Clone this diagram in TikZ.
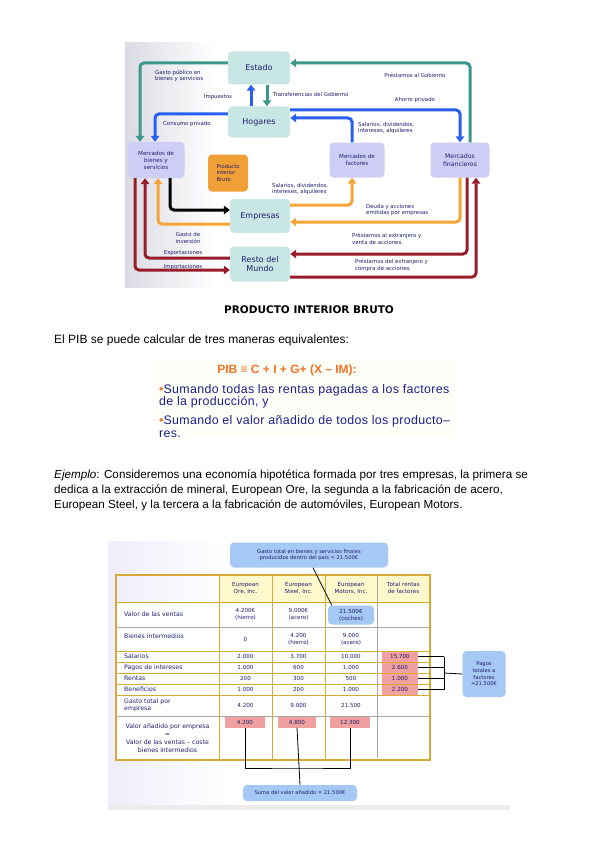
\documentclass[tikz,border=0pt]{standalone}
\usepackage{fontspec}
\setmainfont{Liberation Sans}
\newfontfamily\dejavu{DejaVu Sans}
\newfontfamily\spaced[LetterSpace=2.8]{Liberation Sans}
\usetikzlibrary{arrows.meta, positioning, calc}
\definecolor{navy}{RGB}{30,30,110}
\definecolor{tealc}{RGB}{62,150,140}
\definecolor{bluec}{RGB}{40,95,240}
\definecolor{orangec}{RGB}{245,165,55}
\definecolor{redc}{RGB}{150,28,42}
\definecolor{boxteal}{RGB}{200,230,228}
\definecolor{boxlav}{RGB}{205,205,245}
\definecolor{pibbox}{RGB}{240,160,55}
\definecolor{gold}{RGB}{215,170,55}
\definecolor{headyel}{RGB}{255,248,205}
\definecolor{pinkc}{RGB}{240,160,158}
\definecolor{calloutc}{RGB}{165,200,245}
\definecolor{formula}{RGB}{240,115,35}
\definecolor{bodytext}{RGB}{28,28,140}

\begin{document}
\begin{tikzpicture}[x=1pt, y=-1pt,
    flow/.style={line width=3pt, rounded corners=4pt,
                 -{Triangle[length=6pt,width=8.5pt]}},
    tealflow/.style={flow, draw=tealc, color=tealc},
    blueflow/.style={flow, draw=bluec, color=bluec},
    orangeflow/.style={flow, draw=orangec, color=orangec},
    redflow/.style={flow, draw=redc, color=redc},
    blackflow/.style={flow, draw=black, color=black},
    sector/.style={rounded corners=4pt, fill=boxteal, align=center, text=navy,
                   font=\dejavu\fontsize{8}{9.5}\selectfont},
    market/.style={rounded corners=4pt, fill=boxlav, align=center, text=navy,
                   font=\dejavu\fontsize{5.6}{7}\selectfont},
    flowlabel/.style={font=\dejavu\fontsize{5.4}{6.8}\selectfont, text=navy,
                      align=left, inner sep=0pt},
    cell/.style={font=\dejavu\fontsize{5.6}{6.8}\selectfont, text=navy,
                 align=center, inner sep=0pt},
    rowname/.style={font=\dejavu\fontsize{6.2}{7.4}\selectfont, text=navy,
                    align=left, inner sep=0pt, anchor=west},
    pinkcell/.style={cell, fill=pinkc, minimum height=10pt},
    callout/.style={fill=calloutc, rounded corners=4pt, align=center, text=navy,
                    font=\dejavu\fontsize{5.2}{6.6}\selectfont, inner sep=1pt},
    link/.style={draw=black, line width=0.8pt}
]
    \useasboundingbox (0,0) rectangle (600,848);
    \fill[white] (0,0) rectangle (600,848);

    % Panels
    \fill[white] (125,43) rectangle (492,287);
    \shade[left color=blue!15!gray!25, right color=white] (125,43) rectangle (215,287);
    \fill[yellow!2] (158,360) rectangle (455,437);
    \shade[left color=yellow!15!blue!8, right color=white] (108,541) rectangle (230,805);
    \fill[gray!15] (108,805) rectangle (510,810);

    % Sectors and markets
    \node[sector, minimum width=62pt, minimum height=33pt] (estado) at (259,68) {Estado};
    \node[sector, minimum width=62pt, minimum height=31pt] (hogares) at (259,122) {Hogares};
    \node[sector, minimum width=60pt, minimum height=34pt] (empresas) at (260,216) {Empresas};
    \node[sector, minimum width=60pt, minimum height=35pt] (resto) at (260,264) {Resto del\\Mundo};
    \node[market, minimum width=57pt, minimum height=36pt] (mbienes) at (156,160) {Mercados de\\bienes y\\servicios};
    \node[market, minimum width=55pt, minimum height=35pt] (mfactores) at (357,160) {Mercados de\\factores};
    \node[market, minimum width=59pt, minimum height=35pt,
          font=\dejavu\fontsize{6.2}{7.5}\selectfont] (mfinan) at (460,160) {Mercados\\financieros};
    \node[rounded corners=4pt, fill=pibbox, minimum width=40pt, minimum height=37pt,
          align=left, text=navy, font=\dejavu\fontsize{5.2}{6.8}\selectfont] (pib) at (228,173) {Producto\\Interior\\Bruto};

    % Flows
    \draw[tealflow] ([yshift=5pt]estado.west) -| ([xshift=-16pt]mbienes.north);
    \draw[tealflow] ([xshift=8pt]estado.south) -- ([xshift=8pt]hogares.north);
    \draw[tealflow] ([xshift=10pt]mfinan.north) |- ([yshift=5pt]estado.east);
    \draw[blueflow] ([xshift=-8pt]hogares.north) -- ([xshift=-8pt]estado.south);
    \draw[blueflow] ([yshift=8pt]hogares.west) -| ([xshift=-1pt]mbienes.north);
    \draw[blueflow] ([yshift=12pt]hogares.east) -| (mfinan.north);
    \draw[blueflow] ([xshift=-5pt]mfactores.north) |- ([yshift=4pt]hogares.east);
    \draw[orangeflow] ([yshift=11pt]empresas.east) -| ([xshift=-5pt]mfactores.south);
    \draw[orangeflow] (mfinan.south) |- ([yshift=-6pt]empresas.east);
    \draw[orangeflow] ([yshift=-8pt]empresas.west) -| ([xshift=2pt]mbienes.south);
    \draw[blackflow] ([xshift=14pt]mbienes.south) |- ([yshift=6pt]empresas.west);
    \draw[redflow] ([yshift=6pt]resto.west) -| ([xshift=-11pt]mbienes.south);
    \draw[redflow] ([xshift=-21pt]mbienes.south) |- ([yshift=-6pt]resto.west);
    \draw[redflow] ([xshift=7pt]mfinan.south) |- ([yshift=10pt]resto.east);
    \draw[redflow] ([yshift=-13pt]resto.east) -| ([xshift=16pt]mfinan.south);

    % Flow labels
    \node[flowlabel, anchor=west] (lgasto) at (155,76) {Gasto público en\\bienes y servicios};
    \node[flowlabel] (limp) at (218,97) {Impuestos};
    \node[flowlabel, anchor=west] (ltransf) at (273,94) {Transferencias del Gobierno};
    \node[flowlabel] (lprestgob) at (415,75) {Préstamos al Gobierno};
    \node[flowlabel] (lahorro) at (415,100) {Ahorro privado};
    \node[flowlabel, anchor=west] (lconsumo) at (163,124) {Consumo privado};
    \node[flowlabel, anchor=west] (lsalh) at (358,128) {Salarios, dividendos,\\intereses, alquileres};
    \node[flowlabel, anchor=west] (lsale) at (272,189) {Salarios, dividendos,\\intereses, alquileres};
    \node[flowlabel, anchor=west] (ldeuda) at (366,210) {Deuda y acciones\\emitidas por empresas};
    \node[flowlabel, align=center] (linv) at (188,238) {Gasto de\\inversión};
    \node[flowlabel] (lexp) at (183,253) {Exportaciones};
    \node[flowlabel] (limpo) at (183,267) {Importaciones};
    \node[flowlabel, anchor=west] (lprestext) at (352,239) {Préstamos al extranjero y\\venta de acciones.};
    \node[flowlabel, anchor=west] (lprestdel) at (355,265) {Préstamos del extranjero y\\compra de acciones.};

    % Title and text
    \node[font=\dejavu\bfseries\fontsize{10.5}{12}\selectfont] (title) at (309,310) {PRODUCTO INTERIOR BRUTO};
    \node[anchor=west, inner sep=0pt, font=\fontsize{12}{14}\selectfont] (intro) at (54,340)
        {El PIB se puede calcular de tres maneras equivalentes:};
    \node[font=\bfseries\fontsize{12}{14}\selectfont, text=formula] (pibeq) at (287,370)
        {PIB ≡ C + I + G+ (X – IM):};
    \node[anchor=north west, inner sep=0pt, align=left, text=bodytext,
          font=\spaced\fontsize{12.4}{12.8}\selectfont] (ways) at (159,384)
        {\textcolor{formula}{•}Sumando todas las rentas pagadas a los factores\\
         de la producción, y\\[6pt]
         \textcolor{formula}{•}Sumando el valor añadido de todos los producto–\\
         res.};
    \node[anchor=north west, inner sep=0pt, align=left,
          font=\fontsize{11.7}{14.8}\selectfont] (ejemplo) at (54,470)
        {\textit{Ejemplo}: Consideremos una economía hipotética formada por tres empresas, la primera se\\
         dedica a la extracción de mineral, European Ore, la segunda a la fabricación de acero,\\
         European Steel, y la tercera a la fabricación de automóviles, European Motors.};

    % Table grid
    \fill[headyel] (219,575) rectangle (430,602);
    \fill[white] (116,602) rectangle (430,760);
    \foreach \y in {602,651,662,673,684,695}
        \draw[gold, line width=1pt] (116,\y) -- (430,\y);
    \foreach \y in {627,716}
        \draw[gray!70, line width=1pt] (116,\y) -- (430,\y);
    \foreach \x in {219,272,325}
        \draw[gold, line width=1pt] (\x,575) -- (\x,760);
    \draw[gray!70, line width=1pt] (377,575) -- (377,758);
    \draw[gold, line width=1.8pt] (116,575) rectangle (430,760);

    % Header
    \node[cell] (hore) at (245.5,588) {European\\Ore, Inc.};
    \node[cell] (hsteel) at (298.5,588) {European\\Steel, Inc.};
    \node[cell] (hmotors) at (351,588) {European\\Motors, Inc.};
    \node[cell] (htotal) at (403.5,588) {Total rentas\\de factores};

    % Rows
    \node[rowname] (rventas) at (124,614) {Valor de las ventas};
    \node[cell] (v1) at (245.5,614) {4.200€\\(hierro)};
    \node[cell] (v2) at (298.5,614) {9.000€\\(acero)};
    \node[callout, minimum width=46pt, minimum height=19pt,
          font=\dejavu\fontsize{5.6}{6.8}\selectfont] (v21) at (351,615) {21.500€\\(coches)};
    \node[rowname] (rbienes) at (124,636) {Bienes intermedios};
    \node[cell] (b1) at (245.5,639) {0};
    \node[cell] (b2) at (298.5,639) {4.200\\(hierro)};
    \node[cell] (b3) at (351,639) {9.000\\(acero)};
    \node[rowname] (rsal) at (124,656.5) {Salarios};
    \node[cell] (s1) at (245.5,656.5) {2.000};
    \node[cell] (s2) at (298.5,656.5) {3.700};
    \node[cell] (s3) at (351,656.5) {10.000};
    \node[rowname] (rpagos) at (124,667.5) {Pagos de intereses};
    \node[cell] (p1) at (245.5,667.5) {1.000};
    \node[cell] (p2) at (298.5,667.5) {600};
    \node[cell] (p3) at (351,667.5) {1.000};
    \node[rowname] (rrentas) at (124,678.5) {Rentas};
    \node[cell] (q1) at (245.5,678.5) {200};
    \node[cell] (q2) at (298.5,678.5) {300};
    \node[cell] (q3) at (351,678.5) {500};
    \node[rowname] (rbenef) at (124,689.5) {Beneficios};
    \node[cell] (e1) at (245.5,689.5) {1.000};
    \node[cell] (e2) at (298.5,689.5) {200};
    \node[cell] (e3) at (351,689.5) {1.000};
    \node[rowname] (rgasto) at (124,705.5) {Gasto total por\\empresa};
    \node[cell] (g1) at (245.5,705.5) {4.200};
    \node[cell] (g2) at (298.5,705.5) {9.000};
    \node[cell] (g3) at (351,705.5) {21.500};
    \node[cell, font=\dejavu\fontsize{6.2}{7.8}\selectfont] (rva) at (167.5,738)
        {Valor añadido por empresa\\=\\Valor de las ventas – coste\\bienes intermedios};

    % Highlighted cells
    \node[pinkcell, minimum width=36pt] (f1) at (400,656.5) {15.700};
    \node[pinkcell, minimum width=36pt] (f2) at (400,667.5) {2.600};
    \node[pinkcell, minimum width=36pt] (f3) at (400,678.5) {1.000};
    \node[pinkcell, minimum width=36pt] (f4) at (400,689.5) {2.200};
    \node[pinkcell, minimum width=40pt, minimum height=11pt] (va1) at (245,722) {4.200};
    \node[pinkcell, minimum width=38pt, minimum height=11pt] (va2) at (297,722) {4.800};
    \node[pinkcell, minimum width=40pt, minimum height=11pt] (va3) at (350,722) {12.300};

    % Callouts
    \node[callout, minimum width=158pt, minimum height=25pt] (ctop) at (309,555)
        {Gasto total en bienes y servicios finales\\producidos dentro del país = 21.500€};
    \node[callout, minimum width=43pt, minimum height=46pt] (cright) at (484,674)
        {Pagos\\totales a\\factores\\=21.500€};
    \node[callout, minimum width=114pt, minimum height=16pt] (cbottom) at (300,793)
        {Suma del valor añadido = 21.500€};

    % Links
    \coordinate (brk) at (444,673);
    \coordinate (vajoin) at (297,768);
    \draw[link] ([xshift=4pt]ctop.south) -- ([xshift=4pt]v21.north west);
    \foreach \f in {f1,f2,f3,f4}
        \draw[link] (\f.east) -- (\f.east -| brk);
    \draw[link] (f1.east -| brk) -- (f4.east -| brk);
    \draw[link] (brk) -- (cright.west);
    \draw[link] (va1.south) |- (vajoin) -| (va3.south);
    \draw[link] (va2.south) -- (cbottom.north);
\end{tikzpicture}
\end{document}
